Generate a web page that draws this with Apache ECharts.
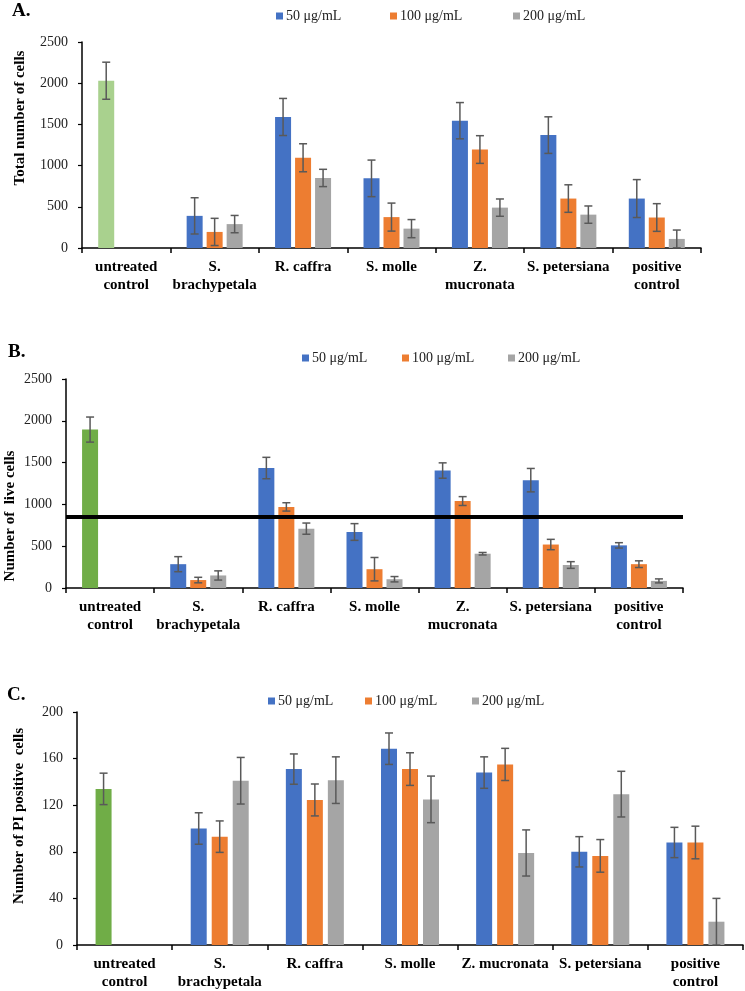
<!DOCTYPE html>
<html><head><meta charset="utf-8">
<script src="https://cdn.jsdelivr.net/npm/echarts@6/dist/echarts.min.js"></script>
<style>html,body{margin:0;padding:0;background:#fff}#c{width:745px;height:991px}</style>
</head><body><div id="c"></div>
<script>
// ---------- data ----------
const categoriesAB = ['untreated\ncontrol','S.\nbrachypetala','R. caffra','S. molle','Z.\nmucronata','S. petersiana','positive\ncontrol'];
const categoriesC  = ['untreated\ncontrol','S.\nbrachypetala','R. caffra','S. molle','Z. mucronata','S. petersiana','positive\ncontrol'];
const seriesNames = ['50 μg/mL','100 μg/mL','200 μg/mL'];
const yTicksA = [0, 2500, 500];
const yTicksB = [0, 2500, 500];
const yTicksC = [0, 200, 40];

// Panel A: total number of cells (first value = untreated control)
const total50  = [2030, 390, 1590, 845, 1545, 1370, 600];
const total100 = [null, 195, 1095, 375, 1195, 600, 370];
const total200 = [null, 290, 850, 235, 490, 405, 110];
const total50Err  = [225, 220, 225, 222, 220, 222, 230];
const total100Err = [null, 165, 170, 170, 168, 167, 168];
const total200Err = [null, 105, 105, 110, 105, 105, 108];

// Panel B: number of live cells
const live50  = [1895, 285, 1435, 670, 1405, 1290, 510];
const live100 = [null, 95, 970, 225, 1040, 520, 285];
const live200 = [null, 150, 710, 105, 410, 275, 85];
const live50Err  = [150, 90, 128, 100, 92, 140, 32];
const live100Err = [null, 33, 50, 140, 53, 62, 40];
const live200Err = [null, 55, 67, 32, 15, 40, 24];
const liveThreshold = 850;

// Panel C: number of PI positive cells
const pi50  = [134, 100, 151, 168.5, 148, 80, 88];
const pi100 = [null, 93, 124.5, 151, 155, 76.5, 88];
const pi200 = [null, 141, 141.5, 125, 79, 129.5, 20];
const pi50Err  = [13.5, 13.5, 13, 13.5, 13.5, 13, 13];
const pi100Err = [null, 13.5, 13.7, 14, 13.8, 14, 14];
const pi200Err = [null, 20, 20, 20, 19.8, 19.6, 20];

// ---------- styles ----------
const colors = ['#4472C4', '#ED7D31', '#A5A5A5'];
const greenA = '#A9D18E', greenBC = '#70AD47';
const FONT = '"Liberation Serif", "Times New Roman", serif';

const panels = [
  {grid:{left:82, width:619, top:42, height:206}, cats:categoriesAB, ticks:yTicksA,
   vals:[total50,total100,total200], errs:[total50Err,total100Err,total200Err], green:greenA, bw:16, gap:4},
  {grid:{left:66, width:617, top:379, height:209}, cats:categoriesAB, ticks:yTicksB,
   vals:[live50,live100,live200], errs:[live50Err,live100Err,live200Err], green:greenBC, bw:16, gap:4},
  {grid:{left:77, width:666, top:712, height:233}, cats:categoriesC, ticks:yTicksC,
   vals:[pi50,pi100,pi200], errs:[pi50Err,pi100Err,pi200Err], green:greenBC, bw:16, gap:5}
];

const grids = [], xAxes = [], yAxes = [], series = [];
panels.forEach((p, gi) => {
  grids.push(Object.assign({containLabel:false}, p.grid));
  xAxes.push({type:'category', gridIndex:gi, data:p.cats,
    axisLine:{lineStyle:{color:'#000', width:1.5}},
    axisTick:{show:true, length:5, lineStyle:{color:'#000', width:1.5}},
    axisLabel:{interval:0, fontFamily:FONT, fontWeight:'bold', fontSize:15, lineHeight:18, color:'#000', margin:10},
    splitLine:{show:false}});
  yAxes.push({type:'value', gridIndex:gi, min:p.ticks[0], max:p.ticks[1], interval:p.ticks[2],
    axisLine:{show:true, lineStyle:{color:'#000', width:1.5}},
    axisTick:{show:true, length:4, lineStyle:{color:'#000', width:1.2}},
    axisLabel:{fontFamily:FONT, fontSize:14, color:'#222', margin:14, formatter:function(v){ return String(v); }},
    splitLine:{show:false}});
  p.vals.forEach((arr, k) => {
    const s = {name:seriesNames[k], type:'bar', xAxisIndex:gi, yAxisIndex:gi,
      barWidth:p.bw, barGap:(p.gap / p.bw * 100) + '%',
      itemStyle:{color:colors[k]},
      data:arr.map((v, i) => {
        if (v == null) return '-';
        if (k === 0 && i === 0) return {value:v, itemStyle:{color:p.green}};
        return v;
      })};
    if (gi === 1 && k === 0) {
      s.markLine = {symbol:'none', silent:true, animation:false,
        lineStyle:{color:'#000', width:4, type:'solid'}, label:{show:false},
        data:[{yAxis:liveThreshold}]};
    }
    series.push(s);
  });
  // error bars
  p.vals.forEach((arr, k) => {
    const off = (k - 1) * (p.bw + p.gap);
    const data = [];
    arr.forEach((v, i) => { if (v != null) data.push([i, v, p.errs[k][i]]); });
    series.push({type:'custom', xAxisIndex:gi, yAxisIndex:gi, silent:true, z:5,
      encode:{x:0, y:1},
      data:data,
      renderItem:function(params, api){
        const x = api.value(0), v = api.value(1), e = api.value(2);
        const t = api.coord([x, v + e]);
        const b = api.coord([x, Math.max(v - e, 0)]);
        const cx = t[0] + off;
        const st = {stroke:'#595959', lineWidth:1.5};
        return {type:'group', children:[
          {type:'line', shape:{x1:cx, y1:t[1], x2:cx, y2:b[1]}, style:st},
          {type:'line', shape:{x1:cx-4, y1:t[1], x2:cx+4, y2:t[1]}, style:st},
          {type:'line', shape:{x1:cx-4, y1:b[1], x2:cx+4, y2:b[1]}, style:st}
        ]};
      }});
  });
});

// legends: one item per legend component, placed like the reference
const legendPos = [
  {y:4, xs:[271, 385, 508]},
  {y:346, xs:[297, 397, 503]},
  {y:689, xs:[263, 360, 467]}
];
const legends = [];
legendPos.forEach(lp => {
  lp.xs.forEach((x, k) => {
    legends.push({data:[seriesNames[k]], left:x, top:lp.y, icon:'rect', itemWidth:7, itemHeight:7,
      itemGap:4, textStyle:{fontFamily:FONT, fontSize:14, color:'#222', padding:[0,0,0,-2]},
      selectedMode:false});
  });
});

const titleStyle = {fontFamily:FONT, fontWeight:'bold', fontSize:15, fill:'#000', textAlign:'center', textVerticalAlign:'middle'};
const graphics = [
  {type:'text', left:12, top:2, style:{text:'A.', font:'bold 19px ' + FONT, fill:'#000'}},
  {type:'text', left:8, top:343, style:{text:'B.', font:'bold 19px ' + FONT, fill:'#000'}},
  {type:'text', left:7, top:686, style:{text:'C.', font:'bold 19px ' + FONT, fill:'#000'}},
  {type:'text', x:20, y:118, rotation:Math.PI/2, style:Object.assign({text:'Total number of cells'}, titleStyle)},
  {type:'text', x:10, y:516, rotation:Math.PI/2, style:Object.assign({text:'Number of  live cells'}, titleStyle)},
  {type:'text', x:19, y:816, rotation:Math.PI/2, style:Object.assign({text:'Number of PI positive  cells'}, titleStyle)}
];

const chart = echarts.init(document.getElementById('c'), null, {renderer:'canvas'});
chart.setOption({
  animation:false,
  backgroundColor:'#fff',
  grid:grids, xAxis:xAxes, yAxis:yAxes,
  legend:legends,
  graphic:graphics,
  series:series
});
</script>
</body></html>
